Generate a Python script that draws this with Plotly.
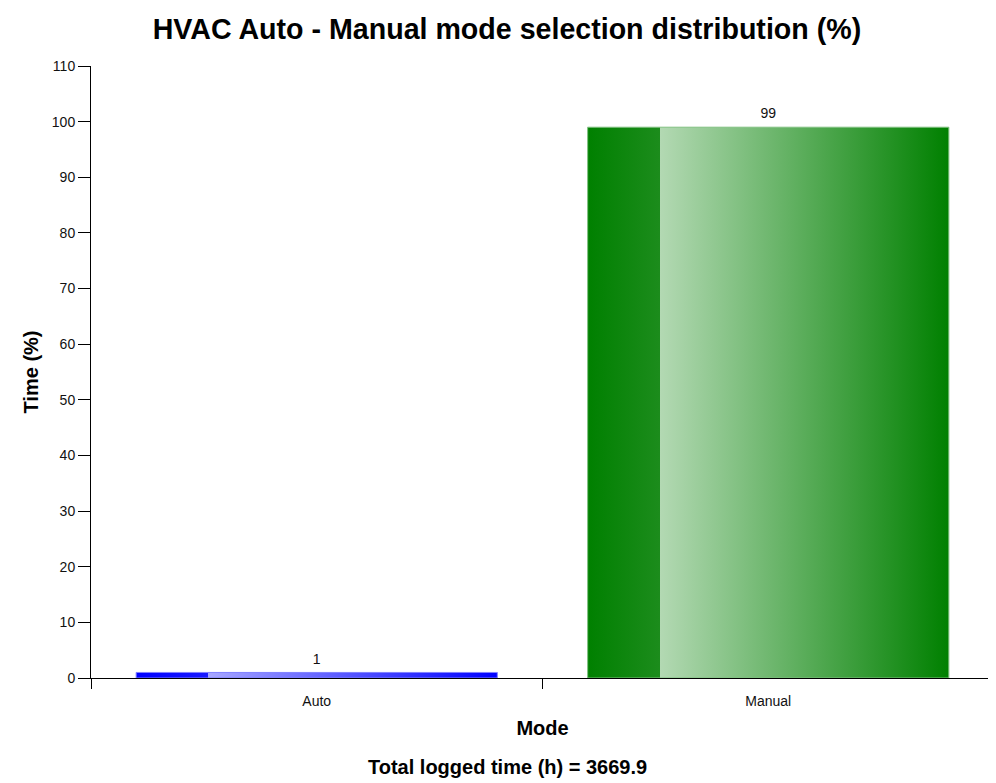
import plotly.graph_objects as go

modes = ['Auto', 'Manual']
time_pct = [1, 99]
total_hours = 3669.9

# gradient per bar: solid dark strip on the left, then light -> dark
bar_scales = {
    'Auto': [[0, '#0000ff'], [0.2, '#1a1aff'], [0.2, '#a6a6ff'], [1, '#0000ff']],
    'Manual': [[0, '#008000'], [0.2, '#1c8c1c'], [0.2, '#b3d9b3'], [1, '#008000']],
}
edge_colors = {'Auto': '#8080ff', 'Manual': '#80c080'}

bar_width = 0.8
font = 'Liberation Sans, Arial, sans-serif'

fig = go.Figure()

for i, (mode, val) in enumerate(zip(modes, time_pct)):
    x0 = i - bar_width / 2
    x1 = i + bar_width / 2
    fig.add_trace(go.Scatter(
        x=[x0, x1, x1, x0, x0],
        y=[0, 0, val, val, 0],
        mode='lines',
        fill='toself',
        fillgradient=dict(type='horizontal', colorscale=bar_scales[mode]),
        line=dict(color=edge_colors[mode], width=1),
        hoverinfo='skip',
        showlegend=False,
    ))

# value labels; invisible marker pushes the text up a little
fig.add_trace(go.Scatter(
    x=list(range(len(modes))),
    y=time_pct,
    mode='markers+text',
    marker=dict(size=7, color='rgba(0,0,0,0)'),
    text=[str(v) for v in time_pct],
    textposition='top center',
    textfont=dict(size=14, color='#111', family=font),
    showlegend=False,
    hoverinfo='skip',
))

# page body has an 8px margin, so the figure is shifted by 8px
fig.update_layout(
    width=988,
    height=775,
    plot_bgcolor='white',
    paper_bgcolor='white',
    font=dict(family=font, color='black'),
    margin=dict(l=83, r=2, t=58, b=105),
    title=dict(
        text='<b>HVAC Auto - Manual mode selection distribution (%)</b>',
        x=0.505, xanchor='center', y=0.973, yanchor='middle',
        font=dict(size=28.6, color='black', family=font),
    ),
    xaxis=dict(
        range=[-0.5, 1.5],
        tickvals=list(range(len(modes))),
        ticktext=modes,
        ticks='outside', ticklen=10, tickcolor='rgba(0,0,0,0)',
        tickfont=dict(size=14, color='#111'),
        minor=dict(tickvals=[-0.5, 0.5, 1.5], ticks='outside', ticklen=10,
                   tickcolor='black', tickwidth=1),
        showline=True, linecolor='black', linewidth=1,
        showgrid=False, zeroline=False,
        title=dict(text='<b>Mode</b>', font=dict(size=20, color='black'), standoff=13),
    ),
    yaxis=dict(
        range=[0, 110],
        tickvals=list(range(0, 111, 10)),
        ticks='outside', ticklen=12, tickcolor='black',
        tickfont=dict(size=14, color='#111'),
        showline=True, linecolor='black', linewidth=1,
        showgrid=False, zeroline=False,
        title=dict(text='<b>Time (%)</b>', font=dict(size=20, color='black'), standoff=7),
    ),
    annotations=[dict(
        text=f'<b>Total logged time (h) = {total_hours}</b>',
        xref='paper', yref='paper', x=0.461, y=-0.145,
        xanchor='center', yanchor='middle', showarrow=False,
        font=dict(size=20, color='black', family=font),
    )],
    shapes=[dict(
        type='line', xref='paper', yref='paper',
        x0=-0.095, x1=-0.095, y0=-0.172, y1=1.108,
        line=dict(color='#d8d8d8', width=1),
    )],
)

fig.write_html('out.html')
